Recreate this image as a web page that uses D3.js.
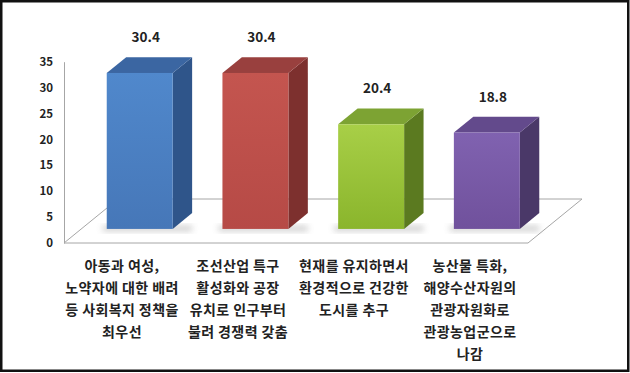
<!DOCTYPE html>
<html>
<head>
<meta charset="utf-8">
<script src="https://cdn.jsdelivr.net/npm/d3@7"></script>
<style>
  body { margin: 0; background: #fff; }
  svg text { font-family: "Noto Sans CJK KR", "Noto Sans", sans-serif; font-weight: 700; fill: #222; }
</style>
</head>
<body>
<div id="container"></div>
<script>
const categories = [
    ["아동과 여성,", "노약자에 대한 배려", "등 사회복지 정책을", "최우선"],
    ["조선산업 특구", "활성화와 공장", "유치로 인구부터", "불려 경쟁력 갖춤"],
    ["현재를 유지하면서", "환경적으로 건강한", "도시를 추구"],
    ["농산물 특화,", "해양수산자원의", "관광자원화로", "관광농업군으로", "나감"]
];
const values = [30.4, 30.4, 20.4, 18.8];
const yTicks = [0, 5, 10, 15, 20, 25, 30, 35];
const colors = [
    { front: ["#5088cc", "#4677b8"], side: "#2f558a", top: "#3b66a2" },
    { front: ["#c4554f", "#b64a46"], side: "#7d302e", top: "#99403e" },
    { front: ["#a8cf47", "#8ab52c"], side: "#5b7a20", top: "#7da333" },
    { front: ["#8062b0", "#70519c"], side: "#4a3868", top: "#634a8c" }
];

const width = 630, height = 373;

const svg = d3.select("#container").append("svg")
    .attr("width", width)
    .attr("height", height);

const defs = svg.append("defs");
colors.forEach((c, i) => {
    const g = defs.append("linearGradient")
        .attr("id", "grad" + i)
        .attr("x1", 0).attr("y1", 0).attr("x2", 0).attr("y2", 1);
    g.append("stop").attr("offset", "0%").attr("stop-color", c.front[0]);
    g.append("stop").attr("offset", "100%").attr("stop-color", c.front[1]);
});
defs.append("filter").attr("id", "blur")
    .attr("x", "-50%").attr("y", "-50%").attr("width", "200%").attr("height", "200%")
    .append("feGaussianBlur").attr("stdDeviation", 3);

// floor geometry
const floorLeft = 64, floorRight = 528, floorFront = 243;
const floorDepth = { x: 54, y: -44 };
const barFrontT = 0.32, barBackT = 0.68;

const x = d3.scaleBand()
    .domain(d3.range(values.length))
    .range([floorLeft, floorRight])
    .paddingInner(0.43)
    .paddingOuter(0.22);

// value scale on the front face plane of the bars
const baseY = floorFront + floorDepth.y * barFrontT;
const y = d3.scaleLinear().domain([0, 35]).range([baseY, baseY - 35 * 5.13]);

// axis scale (drawn on the front-left corner)
const yAxisScale = d3.scaleLinear().domain([0, 35]).range([floorFront, floorFront - 35 * 5.18]);

// floor
const floorPts = [
    [floorLeft, floorFront],
    [floorRight, floorFront],
    [floorRight + floorDepth.x, floorFront + floorDepth.y],
    [floorLeft + floorDepth.x, floorFront + floorDepth.y]
];
svg.append("polygon")
    .attr("points", floorPts.map(p => p.join(",")).join(" "))
    .attr("fill", "#fff")
    .attr("stroke", "#a6a6a6")
    .attr("stroke-width", 1);

// y axis
const yAxis = d3.axisLeft(yAxisScale)
    .tickValues(yTicks)
    .tickSize(0)
    .tickPadding(11);
const axisG = svg.append("g")
    .attr("transform", `translate(${floorLeft},0)`)
    .call(yAxis);
axisG.select(".domain").attr("stroke", "#a6a6a6");
axisG.selectAll("text")
    .attr("font-size", 11.5)
    .attr("fill", "#222")
    .style("font-family", "'Noto Sans CJK KR', sans-serif")
    .style("font-weight", 700);

// bars
const fo = { x: floorDepth.x * barFrontT, y: floorDepth.y * barFrontT };
const dep = { x: floorDepth.x * (barBackT - barFrontT), y: floorDepth.y * (barBackT - barFrontT) };
const pts = arr => arr.map(p => p.join(",")).join(" ");

const bars = svg.append("g").selectAll("g.bar")
    .data(values)
    .enter().append("g")
    .attr("class", "bar");

bars.each(function(v, i) {
    const g = d3.select(this);
    const x0 = x(i) + fo.x, x1 = x0 + x.bandwidth();
    const yb = y(0), yt = y(v);

    // soft shadow at the base
    g.append("rect")
        .attr("x", x0 - 4)
        .attr("y", yb - 3)
        .attr("width", x.bandwidth() + dep.x + 4)
        .attr("height", 5)
        .attr("fill", "#888")
        .attr("opacity", 0.45)
        .attr("filter", "url(#blur)");

    g.append("polygon")
        .attr("points", pts([[x1, yt], [x1 + dep.x, yt + dep.y], [x1 + dep.x, yb + dep.y], [x1, yb]]))
        .attr("fill", colors[i].side);

    g.append("polygon")
        .attr("points", pts([[x0, yt], [x1, yt], [x1 + dep.x, yt + dep.y], [x0 + dep.x, yt + dep.y]]))
        .attr("fill", colors[i].top);

    g.append("rect")
        .attr("x", x0)
        .attr("y", yt)
        .attr("width", x.bandwidth())
        .attr("height", yb - yt)
        .attr("fill", `url(#grad${i})`);

    g.append("text")
        .attr("x", x0 + x.bandwidth() / 2 + 6)
        .attr("y", yt + dep.y - 15)
        .attr("text-anchor", "middle")
        .attr("font-size", 13.5)
        .text(v.toFixed(1));
});

// category labels, centred on the front edge of the floor
const labelX = d3.scaleBand()
    .domain(d3.range(categories.length))
    .range([floorLeft, floorRight]);

const labels = svg.append("g").selectAll("text.cat")
    .data(categories)
    .enter().append("text")
    .attr("class", "cat")
    .attr("text-anchor", "middle")
    .attr("font-size", 14)
    .attr("letter-spacing", 0.4);

labels.each(function(lines, i) {
    const t = d3.select(this);
    lines.forEach((line, j) => {
        t.append("tspan")
            .attr("x", labelX(i) + labelX.bandwidth() / 2)
            .attr("y", 271 + j * 22)
            .text(line);
    });
});

// frame
svg.append("rect")
    .attr("x", 1.25).attr("y", 1.25)
    .attr("width", 627).attr("height", 369.5)
    .attr("fill", "none")
    .attr("stroke", "#111")
    .attr("stroke-width", 2.5);
</script>
</body>
</html>
